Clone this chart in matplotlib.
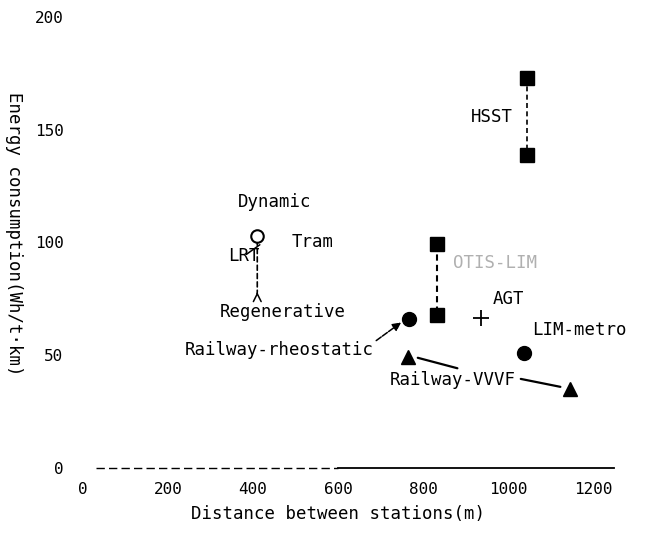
import matplotlib
matplotlib.use("Agg")
import matplotlib.pyplot as plt

# ---- data ----
lrt_x, lrt_dyn, lrt_regen = 410, 103, 78
hsst_x = [1045, 1045]
hsst_y = [173, 139]
lim_sq_x = [833, 833]
lim_sq_y = [99.5, 68]
agt_x, agt_y = [936], [66.5]
limmetro_x, limmetro_y = [1038], [51]
rheo_x, rheo_y = [767], [66]
vvvf_x = [765, 1146]
vvvf_y = [49, 35]

xticks = [0, 200, 400, 600, 800, 1000, 1200]
yticks = [0, 50, 100, 150, 200]

FONT = "DejaVu Sans Mono"
plt.rcParams["font.family"] = [FONT]

fig = plt.figure(figsize=(6.46, 5.36), dpi=100)
ax = fig.add_axes([0.1285, 0.1269, 0.7895, 0.8414])
ax.set_xlim(0, 1200)
ax.set_ylim(0, 200)
for s in ax.spines.values():
    s.set_visible(False)

ax.set_xticks(xticks)
ax.set_xticklabels([str(t) for t in xticks], fontsize=11.5)
ax.set_yticks(yticks)
ax.set_yticklabels([str(t) for t in yticks], fontsize=11.5)
ax.tick_params(axis="both", length=0)
ax.tick_params(axis="x", pad=10)
ax.tick_params(axis="y", pad=14)

# baseline (dashed then solid)
ax.plot([30, 600], [0, 0], color="black", lw=1.0, ls=(0, (6, 3)), clip_on=False)
ax.plot([600, 1250], [0, 0], color="black", lw=1.3, clip_on=False)

ax.set_xlabel("Distance between stations(m)", fontsize=12.5, labelpad=6)
ax.set_ylabel("Energy consumption(Wh/t\u00b7km)", fontsize=12.5, rotation=270,
              va="center", ha="center")
ax.yaxis.set_label_coords(-0.135, 0.52)

# LRT
ax.annotate("", xy=(lrt_x, lrt_regen), xytext=(lrt_x, lrt_dyn - 2),
            arrowprops=dict(arrowstyle="-", ls=(0, (3, 2)), lw=1.2, color="black",
                            shrinkA=0, shrinkB=0))
ax.annotate("", xy=(lrt_x, lrt_regen), xytext=(lrt_x, lrt_regen - 0.5),
            arrowprops=dict(arrowstyle="->", lw=1.1, color="black",
                            shrinkA=0, shrinkB=0, mutation_scale=14))
ax.plot([lrt_x], [lrt_dyn], marker="o", ms=9, mfc="white", mec="black", mew=1.5,
        ls="none", zorder=5)

# HSST
ax.plot(hsst_x, hsst_y, ls=(0, (3, 2)), color="black", lw=1.2, marker="s", ms=9.5,
        mfc="black", mec="black")
# LIM square pair
ax.plot(lim_sq_x, lim_sq_y, ls=(0, (3, 2)), color="black", lw=1.5, marker="s", ms=9.5,
        mfc="black", mec="black")
# AGT
ax.plot(agt_x, agt_y, ls="none", marker="+", ms=11, mew=1.3, color="black")
# LIM-metro
ax.plot(limmetro_x, limmetro_y, ls="none", marker="o", ms=10, color="black")
# Railway rheostatic
ax.plot(rheo_x, rheo_y, ls="none", marker="o", ms=10, color="black")
# Railway VVVF
ax.plot(vvvf_x, vvvf_y, ls="none", marker="^", ms=9.5, color="black")

fs = 12.5
ax.text(452, 118, "Dynamic", fontsize=fs, ha="center", va="center")
ax.text(541, 100, "Tram", fontsize=fs, ha="center", va="center")
ax.annotate("LRT", xy=(lrt_x + 6, lrt_dyn - 4), xytext=(379, 94), fontsize=fs,
            ha="center", va="center",
            arrowprops=dict(arrowstyle="-", lw=1.1, color="black", shrinkA=2, shrinkB=0))
ax.text(470, 69, "Regenerative", fontsize=fs, ha="center", va="center")
ax.annotate("Railway-rheostatic", xy=(rheo_x[0] - 8, rheo_y[0]), xytext=(461, 52.4),
            fontsize=fs, ha="center", va="center",
            arrowprops=dict(arrowstyle="-|>", lw=1.1, color="black", ls=(0, (4, 1)),
                            shrinkA=0, shrinkB=4, relpos=(1.0, 0.9)))
ax.text(1000, 75, "AGT", fontsize=fs, ha="center", va="center")
ax.text(1169, 61, "LIM-metro", fontsize=fs, ha="center", va="center")
ax.text(962, 155.5, "HSST", fontsize=fs, ha="center", va="center")
ax.text(969, 91, "OTIS-LIM", fontsize=fs, ha="center", va="center", color="#b0b0b0")
ax.annotate("Railway-VVVF", xy=(vvvf_x[0] + 10, vvvf_y[0] + 0.5), xytext=(870, 39),
            fontsize=fs, ha="center", va="center",
            arrowprops=dict(arrowstyle="-", lw=1.6, color="black", shrinkA=0,
                            shrinkB=4, relpos=(0.62, 1.0)))
ax.annotate("", xy=(vvvf_x[1] - 10, vvvf_y[1] + 0.5), xytext=(1030, 39.5),
            arrowprops=dict(arrowstyle="-", lw=1.6, color="black", shrinkA=0, shrinkB=4))

fig.savefig("out.png", dpi=100)
